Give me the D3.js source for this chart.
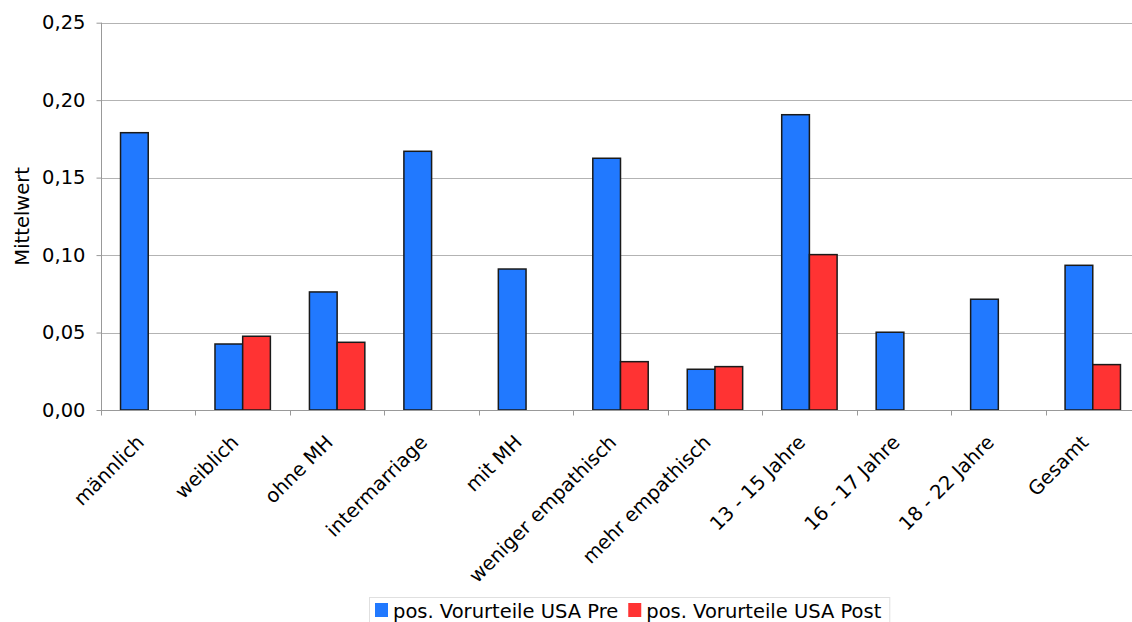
<!DOCTYPE html>
<html>
<head>
<meta charset="utf-8">
<script src="https://cdn.jsdelivr.net/npm/d3@7"></script>
<style>
  html, body { margin: 0; padding: 0; background: #fff; }
  svg { display: block; font-family: "DejaVu Sans", Verdana, sans-serif; }
</style>
</head>
<body>
<svg id="chart" width="1132" height="622"></svg>
<script>
// Mean values per group, before and after
const categories = ["männlich", "weiblich", "ohne MH", "intermarriage", "mit MH",
  "weniger empathisch", "mehr empathisch", "13 - 15 Jahre", "16 - 17 Jahre",
  "18 - 22 Jahre", "Gesamt"];
const preValues  = [0.179, 0.0426, 0.0762, 0.167, 0.091, 0.1625, 0.0263, 0.1906, 0.0502, 0.0715, 0.0934];
const postValues = [null, 0.0476, 0.0437, null, null, 0.0312, 0.028, 0.1003, null, null, 0.0293];
const seriesNames = ["pos. Vorurteile USA Pre", "pos. Vorurteile USA Post"];
const seriesColors = ["#2179ff", "#ff3333"];
const yTicks = [0, 0.05, 0.10, 0.15, 0.20, 0.25];
const yLabel = "Mittelwert";

const svg = d3.select("#chart");
const plot = { left: 101, top: 22.7, bottom: 410, right: 1140 };
const FS = 19.5;

const fmt = v => d3.format(".2f")(v).replace(".", ",");

const x = d3.scaleBand().domain(categories).range([plot.left, plot.right]).paddingInner(0).paddingOuter(0);
const xs = d3.scaleBand().domain(seriesNames).range([0, x.bandwidth()]).paddingInner(0).paddingOuter(0.705);
const y = d3.scaleLinear().domain([0, 0.25]).range([plot.bottom, plot.top]);

// Horizontal grid lines
svg.append("g")
  .selectAll("line").data(yTicks.filter(t => t > 0)).join("line")
  .attr("x1", plot.left).attr("x2", plot.right)
  .attr("y1", d => Math.round(y(d)) + 0.5).attr("y2", d => Math.round(y(d)) + 0.5)
  .attr("stroke", "#b3b3b3").attr("stroke-width", 1);

// Bars
const rows = categories.map((c, i) => ({ c, vals: [preValues[i], postValues[i]] }));
const groups = svg.append("g").selectAll("g").data(rows).join("g")
  .attr("transform", d => `translate(${x(d.c)},0)`);
groups.selectAll("rect")
  .data(d => d.vals.map((v, k) => ({ v, k })).filter(e => e.v != null))
  .join("rect")
  .attr("x", e => xs(seriesNames[e.k]))
  .attr("width", xs.bandwidth())
  .attr("y", e => y(e.v))
  .attr("height", e => y(0) - y(e.v))
  .attr("fill", e => seriesColors[e.k])
  .attr("stroke", "#1a1a1a")
  .attr("stroke-width", 1.5);

// Y axis
const yAxis = d3.axisLeft(y).tickValues(yTicks).tickFormat(fmt).tickSize(5).tickPadding(11);
const gy = svg.append("g").attr("transform", `translate(${plot.left + 0.5},0)`).call(yAxis);
gy.select(".domain").attr("stroke", "#999").attr("d", `M0,${plot.top}V${plot.bottom}`);
gy.selectAll(".tick line").attr("stroke", "#999");
gy.selectAll(".tick text").attr("font-size", FS).attr("fill", "#000")
  .attr("font-family", "DejaVu Sans, Verdana, sans-serif");

// X axis with ticks on category boundaries
const gx = svg.append("g").attr("transform", `translate(0,${plot.bottom + 0.5})`);
gx.append("line").attr("x1", plot.left).attr("x2", plot.right).attr("stroke", "#999");
const bounds = categories.map(c => x(c)).concat([plot.right]);
gx.selectAll("line.tk").data(bounds).join("line").attr("class", "tk")
  .attr("x1", d => Math.round(d) + 0.5).attr("x2", d => Math.round(d) + 0.5)
  .attr("y1", 0).attr("y2", 5).attr("stroke", "#999");
gx.selectAll("text").data(categories).join("text")
  .attr("transform", d => `translate(${x(d) + x.bandwidth() / 2 - 3},${33}) rotate(-45)`)
  .attr("text-anchor", "end")
  .attr("font-size", FS)
  .attr("fill", "#000")
  .text(d => d);

// Y axis title
svg.append("text")
  .attr("transform", `translate(29,${(plot.top + plot.bottom) / 2}) rotate(-90)`)
  .attr("text-anchor", "middle")
  .attr("font-size", FS)
  .attr("fill", "#000")
  .text(yLabel);

// Legend
const legend = svg.append("g").attr("transform", "translate(369,597)");
let lx = 0;
const items = legend.selectAll("g").data(seriesNames).join("g");
items.each(function (d, i) {
  const g = d3.select(this);
  g.append("rect").attr("x", 0).attr("y", 6).attr("width", 13).attr("height", 14)
    .attr("fill", seriesColors[i]);
  const t = g.append("text").attr("x", 18).attr("y", 21).attr("font-size", FS).attr("fill", "#000").text(d);
  g.attr("transform", `translate(${lx + 6},0)`);
  lx += 6 + 18 + t.node().getComputedTextLength() + 4;
});
legend.insert("rect", ":first-child")
  .attr("x", 0.5).attr("y", 0.5).attr("width", lx + 4).attr("height", 30)
  .attr("fill", "none").attr("stroke", "#e0e0e0");
</script>
</body>
</html>
